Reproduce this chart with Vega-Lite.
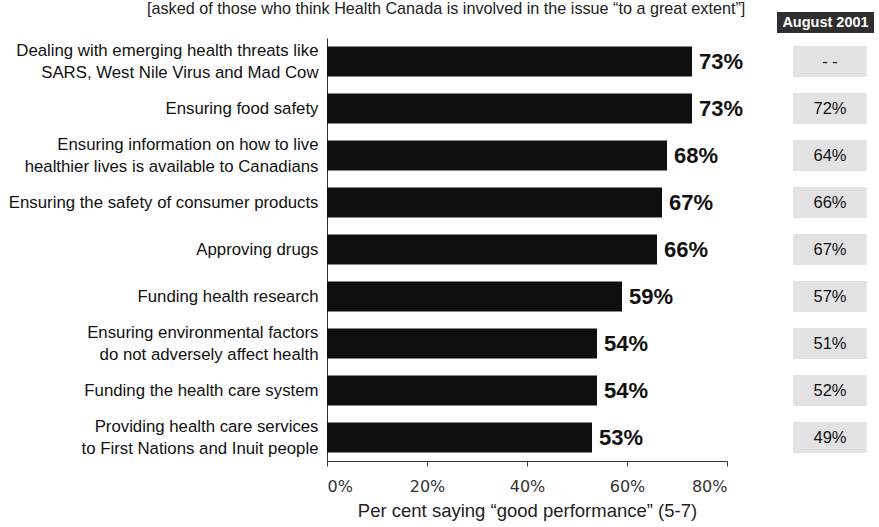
{
  "$schema": "https://vega.github.io/schema/vega-lite/v6.json",
  "padding": {"left": 8, "right": 3, "top": 0, "bottom": 2},
  "background": "white",
  "title": {
    "text": "[asked of those who think Health Canada is involved in the issue “to a great extent”]",
    "font": "Liberation Sans",
    "fontSize": 16.2,
    "fontWeight": "normal",
    "color": "#222222",
    "anchor": "middle",
    "dx": 5,
    "offset": -5
  },
  "datasets": {
    "rows": [
      {"item": "Dealing with emerging health threats like|SARS, West Nile Virus and Mad Cow", "pct": 0.73, "aug": "- -"},
      {"item": "Ensuring food safety", "pct": 0.73, "aug": "72%"},
      {"item": "Ensuring information on how to live|healthier lives is available to Canadians", "pct": 0.68, "aug": "64%"},
      {"item": "Ensuring the safety of consumer products", "pct": 0.67, "aug": "66%"},
      {"item": "Approving drugs", "pct": 0.66, "aug": "67%"},
      {"item": "Funding health research", "pct": 0.59, "aug": "57%"},
      {"item": "Ensuring environmental factors|do not adversely affect health", "pct": 0.54, "aug": "51%"},
      {"item": "Funding the health care system", "pct": 0.54, "aug": "52%"},
      {"item": "Providing health care services|to First Nations and Inuit people", "pct": 0.53, "aug": "49%"}
    ]
  },
  "data": {"name": "rows"},
  "spacing": 33,
  "hconcat": [
    {
      "width": 400,
      "height": {"step": 47},
      "encoding": {
        "y": {
          "field": "item", "type": "nominal", "sort": null,
          "scale": {"paddingInner": 0.36, "paddingOuter": 0.18},
          "axis": {
            "title": null, "ticks": false, "labelPadding": 9,
            "labelFont": "Liberation Sans", "labelFontSize": 16.8, "labelColor": "#111111",
            "labelLineHeight": 22, "labelLimit": 500,
            "labelExpr": "split(datum.value, '|')",
            "labelOffset": {"condition": {"test": "indexof(datum.value, '|') >= 0", "value": -11}, "value": 0},
            "domainColor": "#333333", "domainWidth": 1
          }
        },
        "x": {
          "field": "pct", "type": "quantitative",
          "scale": {"domain": [0, 0.8]},
          "axis": {
            "title": "Per cent saying “good performance” (5-7)",
            "values": [0, 0.2, 0.4, 0.6, 0.8], "format": ".0%", "grid": false,
            "tickSize": 5, "tickColor": "#333333", "domainColor": "#333333",
            "labelFont": "DejaVu Sans", "labelFontSize": 16, "labelColor": "#333333", "labelPadding": 12,
            "titleFont": "Liberation Sans", "titleFontSize": 18.5, "titleFontWeight": "normal",
            "titleColor": "#222222", "titlePadding": 7
          }
        }
      },
      "layer": [
        {"mark": {"type": "bar", "color": "#0f0f0f"}},
        {
          "mark": {"type": "text", "align": "left", "dx": 7, "font": "Liberation Sans", "fontSize": 22, "fontWeight": "bold", "color": "#111111"},
          "encoding": {"text": {"field": "pct", "type": "quantitative", "format": ".0%"}}
        }
      ]
    },
    {
      "width": 97,
      "height": {"step": 47},
      "encoding": {
        "y": {
          "field": "item", "type": "nominal", "sort": null,
          "scale": {"paddingInner": 0.36, "paddingOuter": 0.18},
          "axis": null
        },
        "x": {
          "datum": "August 2001", "type": "nominal",
          "scale": {"paddingInner": 0, "paddingOuter": 0},
          "axis": null
        }
      },
      "layer": [
        {"mark": {"type": "bar", "color": "#e2e2e2", "width": {"band": 0.76}, "height": {"band": 1.03}, "xOffset": 4.5}},
        {
          "mark": {"type": "text", "font": "Liberation Sans", "fontSize": 16.5, "color": "#111111", "xOffset": 4.5},
          "encoding": {"text": {"field": "aug"}}
        },
        {
          "transform": [{"filter": "datum.aug == '- -'"}],
          "mark": {"type": "bar", "color": "#2e2e2e", "height": 21, "yOffset": -39}
        },
        {
          "transform": [{"filter": "datum.aug == '- -'"}],
          "mark": {"type": "text", "font": "Liberation Sans", "fontSize": 14.5, "fontWeight": "bold", "color": "white", "yOffset": -39},
          "encoding": {"text": {"value": "August 2001"}}
        }
      ]
    }
  ],
  "config": {"view": {"stroke": null}, "font": "Liberation Sans"}
}
